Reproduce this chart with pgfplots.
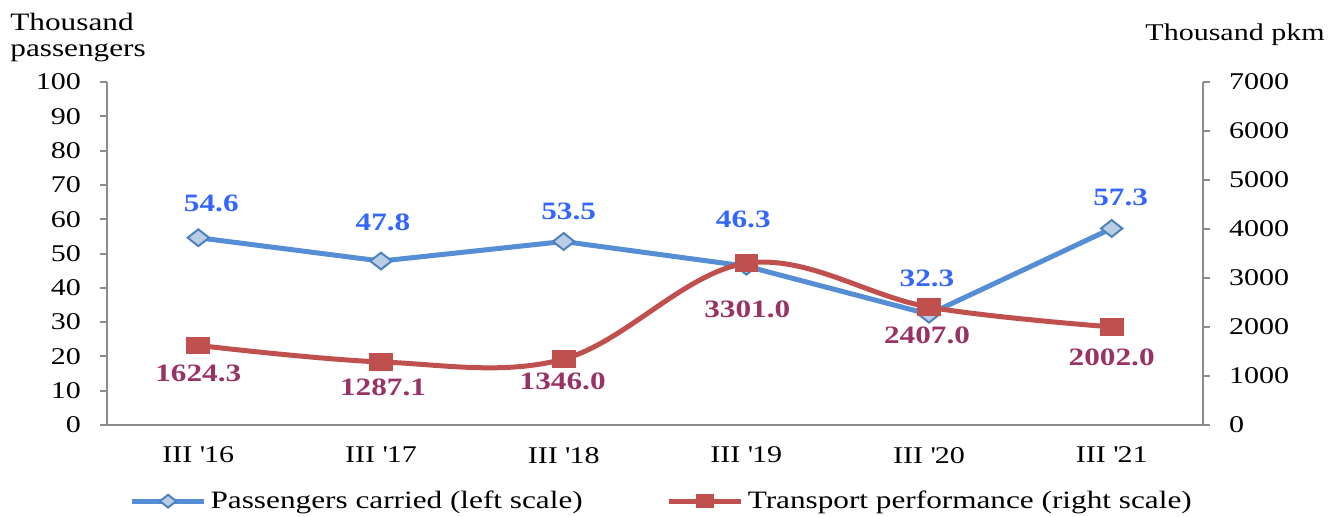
\documentclass[border=0pt]{standalone}
\usepackage{pgfplots}
\pgfplotsset{compat=1.18}
\usepackage{fontspec}
\setmainfont{Liberation Serif}[FakeStretch=1.25]
\definecolor{axisgray}{HTML}{8C8C8C}
\definecolor{bline}{HTML}{558ED5}
\definecolor{bfill}{HTML}{B9CDE5}
\definecolor{bedge}{HTML}{4F81BD}
\definecolor{rline}{HTML}{C0504D}
\definecolor{blab}{HTML}{3366FF}
\definecolor{rlab}{HTML}{993366}
\pgfplotstableread{
x y dx dy
0 54.6 6.5 17
1 47.8 1 19.5
2 53.5 2.5 15
3 46.3 -1.5 23.5
4 32.3 -1 18
5 57.3 4.5 15.5
}\passengers
\pgfplotstableread{
x y dx dy
0 1624.3 0 -14
1 1287.1 1 -12.5
2 1346.0 -0.5 -11
3 3301.0 0.5 -23
4 2407.0 -1 -14
5 2002.0 0 -15
}\performance
\pgfplotsset{
  common/.style={
    scale only axis, width=548pt, height=171.5pt,
    xmin=-0.5, xmax=5.5, ymin=0,
    tick align=outside, major tick length=3.5pt,
    axis line style={draw=axisgray, line width=1pt, -},
    tick style={draw=axisgray, line width=1pt},
    tick label style={font=\fontsize{12}{14}\selectfont},
    /pgf/number format/assume math mode=true,
    /pgf/number format/1000 sep={},
  },
  bluestyle/.style={color=bline, line width=2.5pt, mark=diamond*,
    mark size=4.2pt, mark options={xscale=1.7, fill=bfill, draw=bedge, line width=1pt}},
  redstyle/.style={color=rline, line width=2.5pt, mark=square*,
    mark size=4.2pt, mark options={xscale=1.35, fill=rline, draw=rline, line width=0.5pt}},
}
\begin{document}
\begin{tikzpicture}
\useasboundingbox (-53.5pt,-45.5pt) rectangle (612pt,212.5pt);
\begin{axis}[common,
  ymax=100,
  axis x line*=bottom, axis y line*=left,
  xtick={0,...,5},
  xticklabels={III \textquotesingle16, III \textquotesingle17, III \textquotesingle18, III \textquotesingle19, III \textquotesingle20, III \textquotesingle21},
  x tick style={draw=none},
  ytick={0,10,...,100},
  yticklabel style={xshift=-6pt},
  xticklabel style={yshift=-4pt},
]
\addplot[bluestyle,
  visualization depends on={\thisrow{dx}\as\dx},
  visualization depends on={\thisrow{dy}\as\dy},
  nodes near coords,
  nodes near coords style={anchor=center, xshift=\dx pt, yshift=\dy pt,
    text=blab, font=\fontsize{12.5}{14}\selectfont\bfseries,
    /pgf/number format/.cd, fixed, precision=1, fixed zerofill},
] table[x=x, y=y] {\passengers};
\end{axis}
\begin{axis}[common,
  ymax=7000,
  axis x line=none, axis y line*=right,
  ytick={0,1000,...,7000},
  yticklabel style={xshift=6pt},
  legend columns=2,
  legend style={at={(0.507,-0.222)}, anchor=center, draw=none, fill=none,
    font=\fontsize{12.5}{14}\selectfont,
    /tikz/every even column/.append style={column sep=40pt}},
  legend image code/.code={\draw[mark repeat=2,mark phase=2,mark size=3.2pt] plot coordinates {(0pt,0pt) (18pt,0pt) (36pt,0pt)};},
]
\addlegendimage{bluestyle}
\addlegendentry{Passengers carried (left scale)}
\addplot[redstyle, smooth, tension=0.6,
  visualization depends on={\thisrow{dx}\as\dx},
  visualization depends on={\thisrow{dy}\as\dy},
  nodes near coords,
  nodes near coords style={anchor=center, xshift=\dx pt, yshift=\dy pt,
    text=rlab, font=\fontsize{12.5}{14}\selectfont\bfseries,
    /pgf/number format/.cd, fixed, precision=1, fixed zerofill},
] table[x=x, y=y] {\performance};
\addlegendentry{Transport performance (right scale)}
\end{axis}
\node[anchor=north west, align=left, inner sep=0pt, font=\fontsize{12.5}{13}\selectfont] at (-48.5pt,206pt) {Thousand\\passengers};
\node[anchor=east, inner sep=0pt, font=\fontsize{12}{14}\selectfont] at (609pt,195pt) {Thousand pkm};
\end{tikzpicture}
\end{document}
